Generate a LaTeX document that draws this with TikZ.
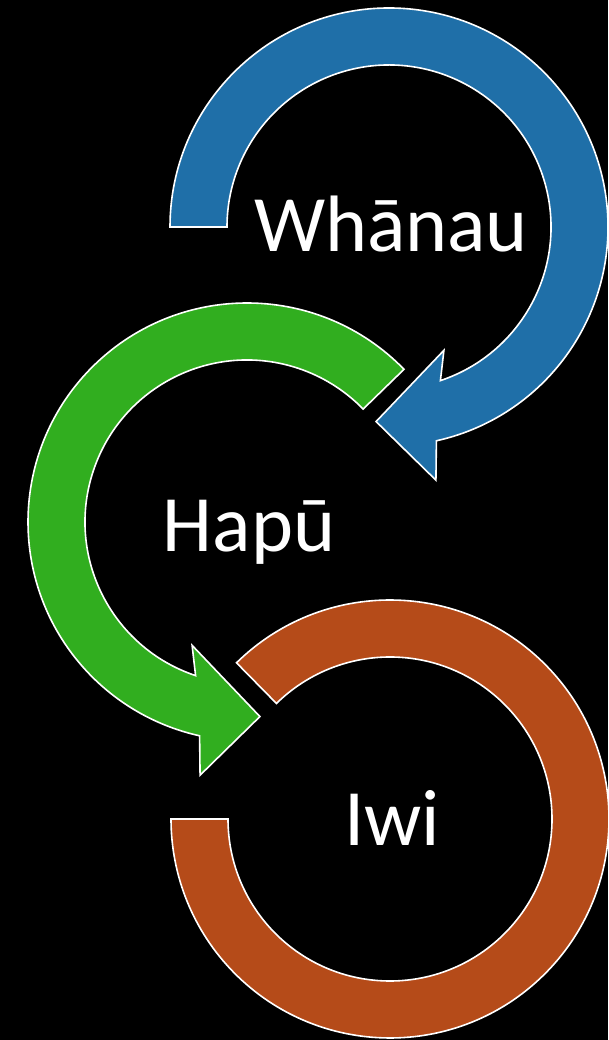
\documentclass[tikz,border=0pt]{standalone}
\usepackage{fontspec}
\setmainfont{Carlito}
\usetikzlibrary{calc}
\begin{document}
\begin{tikzpicture}[x=1pt,y=1pt,
  ring/.style={draw=white,line width=1.6pt,line join=miter},
  label/.style={text=white,anchor=base,inner sep=0pt,font=\fontsize{80}{90}\selectfont}]
\definecolor{ringblue}{RGB}{31,111,168}
\definecolor{ringgreen}{RGB}{49,174,31}
\definecolor{ringorange}{RGB}{181,75,25}
\fill[black] (0,0) rectangle (608,1040);
\useasboundingbox (0,0) rectangle (608,1040);

% ring centres
\coordinate (cb) at (389,813);
\coordinate (cg) at (247,518);
\coordinate (co) at (390,221);

% blue ring: runs clockwise from the left, arrowhead at the bottom
\filldraw[ring,fill=ringblue]
  ($(cb)+(180:219)$) arc[start angle=180,end angle=-77.5,radius=219]
  -- ($(cb)+(-79.5:257.5)$)
  -- ($(cb)+(-93.8:195)$)
  -- ($(cb)+(-66:135)$)
  -- ($(cb)+(-71.5:162)$) arc[start angle=-71.5,end angle=180,radius=162]
  -- cycle;

% green ring: runs anticlockwise from the upper right, arrowhead at the bottom
\filldraw[ring,fill=ringgreen]
  ($(cg)+(44.2:219)$) arc[start angle=44.2,end angle=257.5,radius=219]
  -- ($(cg)+(259.5:257.5)$)
  -- ($(cg)+(273.8:195)$)
  -- ($(cg)+(246:135)$)
  -- ($(cg)+(251.5:162)$) arc[start angle=251.5,end angle=44.2,radius=162]
  -- cycle;

% orange ring: plain band without a head
\filldraw[ring,fill=ringorange]
  ($(co)+(134.5:219)$) arc[start angle=134.5,end angle=-180,radius=219]
  -- ($(co)+(180:162)$) arc[start angle=-180,end angle=134.5,radius=162]
  -- cycle;

\node[label] (whanau) at (391,788) {Whānau};
\node[label] (hapu) at (249,488) {Hapū};
\node[label] (iwi) at (392,194) {Iwi};
\end{tikzpicture}
\end{document}
